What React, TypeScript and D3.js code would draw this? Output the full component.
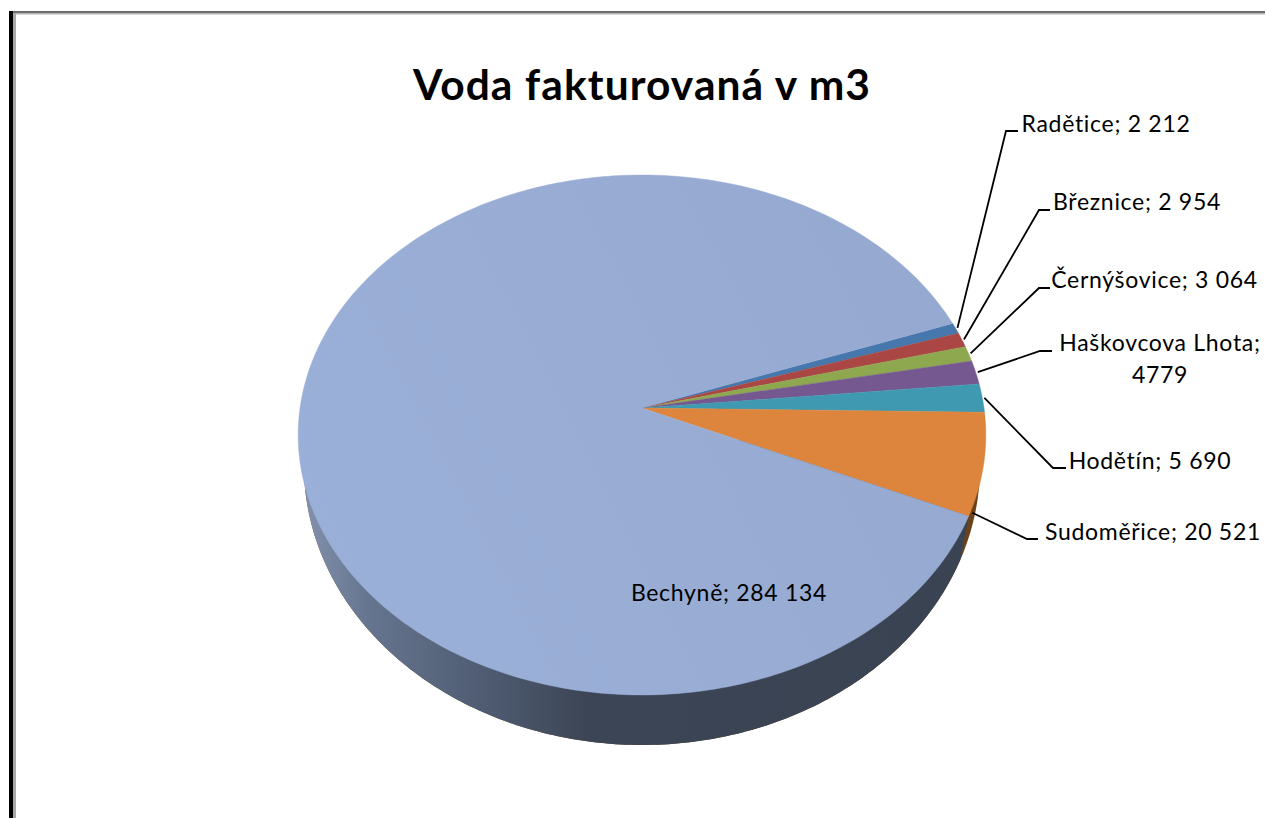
import React from "react";
import * as d3 from "d3";

const categories = ["Bechyně", "Radětice", "Březnice", "Černýšovice", "Haškovcova Lhota", "Hodětín", "Sudoměřice"];
const values = [284134, 2212, 2954, 3064, 4779, 5690, 20521];
const valueLabels = ["284 134", "2 212", "2 954", "3 064", "4779", "5 690", "20 521"];
const sliceColors = ["#99aed6", "#4678ad", "#aa4744", "#8ea850", "#75588f", "#3f9ab1", "#dd853c"];

const FONT = "Lato, Carlito, sans-serif";
const W = 1265, H = 818;

// Perspective projection of the flat pie disc onto the screen
const apex = { x: 642, y: 408 };
const persp = { c: 0.1038, a: 257.2, r: 342 };
const project = (angle: number) => {
  const u = Math.sin(angle), v = Math.cos(angle);
  const k = 1 + persp.c * v;
  return [apex.x + (persp.r * u) / k, apex.y - (persp.a * v) / k] as [number, number];
};

const startDeg = 90 - 19.9; // top edge of the first small slice
const pieGen = d3.pie<number>().sort(null)
  .startAngle((startDeg * Math.PI) / 180)
  .endAngle(((startDeg + 360) * Math.PI) / 180);

// Bechyně comes last in the clockwise walk
const order = [1, 2, 3, 4, 5, 6, 0];
const orderedVals = order.map((i) => values[i]);
const arcs = pieGen(orderedVals).map((a, j) => ({ ...a, idx: order[j] }));

const rimPath = (a0: number, a1: number) => {
  const n = Math.max(4, Math.ceil((a1 - a0) * 60));
  const pts = d3.range(n + 1).map((i) => project(a0 + ((a1 - a0) * i) / n));
  return `M${apex.x},${apex.y}L` + pts.map((p) => p.map((c) => c.toFixed(2)).join(",")).join("L") + "Z";
};

// Wall outline: lower contour of the extruded disc
const wallBottom = { cx: 642, cy: 466, rx: 338, ry: 279 };
const wallPts = () => {
  const n = 200;
  const x0 = wallBottom.cx - wallBottom.rx, x1 = wallBottom.cx + wallBottom.rx;
  return d3.range(n + 1).map((i) => {
    const t = Math.PI - (Math.PI * i) / n;
    return [wallBottom.cx + wallBottom.rx * Math.cos(t), wallBottom.cy + wallBottom.ry * Math.sin(t)] as [number, number];
  }).concat([[x1, 440], [x0, 440]] as [number, number][]);
};
const wallOutline = "M" + wallPts().map((p) => p.map((c) => c.toFixed(2)).join(",")).join("L") + "Z";

// Leader lines: elbow + end in screen space, label anchor and baseline
const leaders: Record<string, { elbow: [number, number]; end: [number, number]; x: number; y: number; lines: string[]; frac: number }> = {
  "Radětice": { elbow: [1006, 131], end: [1018, 131], x: 1106, y: 132, lines: ["Radětice; 2 212"], frac: 0.5 },
  "Březnice": { elbow: [1039, 210], end: [1050, 210], x: 1137, y: 210, lines: ["Březnice; 2 954"], frac: 0.5 },
  "Černýšovice": { elbow: [1039, 288], end: [1050, 288], x: 1154.5, y: 288, lines: ["Černýšovice; 3 064"], frac: 0.5 },
  "Haškovcova Lhota": { elbow: [1040, 351], end: [1052, 351], x: 1160, y: 351, lines: ["Haškovcova Lhota;", "4779"], frac: 0.5 },
  "Hodětín": { elbow: [1053, 468], end: [1066, 468], x: 1150, y: 469, lines: ["Hodětín; 5 690"], frac: 0.5 },
  "Sudoměřice": { elbow: [1027, 539], end: [1038, 539], x: 1153, y: 540, lines: ["Sudoměřice; 20 521"], frac: 0.96 },
};

const polyline = d3.line();

export default function App() {
  const sud = arcs.find((a) => a.idx === 6)!;
  const [sx, sy] = project(sud.endAngle);
  const blueClip = `0,0 ${sx},0 ${sx},${sy} ${sx - 9},${sy + 50} ${sx - 9},${H} 0,${H}`;
  return (
    <svg width={W} height={H} viewBox={`0 0 ${W} ${H}`} style={{ position: "absolute", left: 0, top: 0, display: "block", background: "#fff" }}>
      <defs>
        <linearGradient id="wallBlue" gradientUnits="userSpaceOnUse" x1="300" x2="984" y1="0" y2="0">
          <stop offset="0" stopColor="#8494ae" />
          <stop offset="0.1" stopColor="#66758f" />
          <stop offset="0.28" stopColor="#4d5a70" />
          <stop offset="0.42" stopColor="#3c4555" />
          <stop offset="1" stopColor="#3a4352" />
        </linearGradient>
        <linearGradient id="topBlue" gradientUnits="userSpaceOnUse" x1="300" x2="984" y1="600" y2="250">
          <stop offset="0" stopColor="#9bb0d8" />
          <stop offset="1" stopColor="#95a8d0" />
        </linearGradient>
        <clipPath id="blueWall"><polygon points={blueClip} /></clipPath>
      </defs>
      <rect width={W} height={H} fill="#fff" />

      {/* frame */}
      <rect x={9} y={11} width={4} height={H - 11} fill="#000" />
      <rect x={13} y={11} width={W - 13} height={2} fill="#6e6e6e" />
      <rect x={13} y={13} width={W - 13} height={1.5} fill="#b4b4b4" />
      <rect x={13} y={13} width={3} height={H - 13} fill="#a8a8a8" />

      {/* wall */}
      <path d={wallOutline} fill="#6b4218" />
      <path d={wallOutline} fill="url(#wallBlue)" clipPath="url(#blueWall)" />

      {/* top surface */}
      {arcs.map((a) => (
        <path key={a.idx} d={rimPath(a.startAngle, a.endAngle)}
          fill={a.idx === 0 ? "url(#topBlue)" : sliceColors[a.idx]} stroke={a.idx === 0 ? "url(#topBlue)" : sliceColors[a.idx]} strokeWidth={0.4} />
      ))}

      {/* leader lines */}
      {arcs.filter((a) => a.idx !== 0).map((a) => {
        const name = categories[a.idx];
        const l = leaders[name];
        const mid = a.startAngle + (a.endAngle - a.startAngle) * l.frac;
        const [x, y] = project(mid);
        const start: [number, number] = [x + (x - apex.x) * 0.006, y + (y - apex.y) * 0.006];
        return <path key={name} d={polyline([start, l.elbow, l.end]) ?? ""} fill="none" stroke="#000" strokeWidth={1.8} />;
      })}

      {/* labels */}
      <g fontFamily={FONT} fontSize={23} letterSpacing={0.7} fill="#000" textAnchor="middle">
        {arcs.filter((a) => a.idx !== 0).map((a) => {
          const l = leaders[categories[a.idx]];
          return l.lines.map((t, i) => (
            <text key={t} x={l.x} y={l.y + i * 32}>{t}</text>
          ));
        })}
        <text x={729} y={601}>{`${categories[0]}; ${valueLabels[0]}`}</text>
      </g>

      <text x={642} y={100} textAnchor="middle" fontFamily={FONT} fontWeight={700} fontSize={42.5} letterSpacing={1.1}>Voda fakturovaná v m3</text>
    </svg>
  );
}
